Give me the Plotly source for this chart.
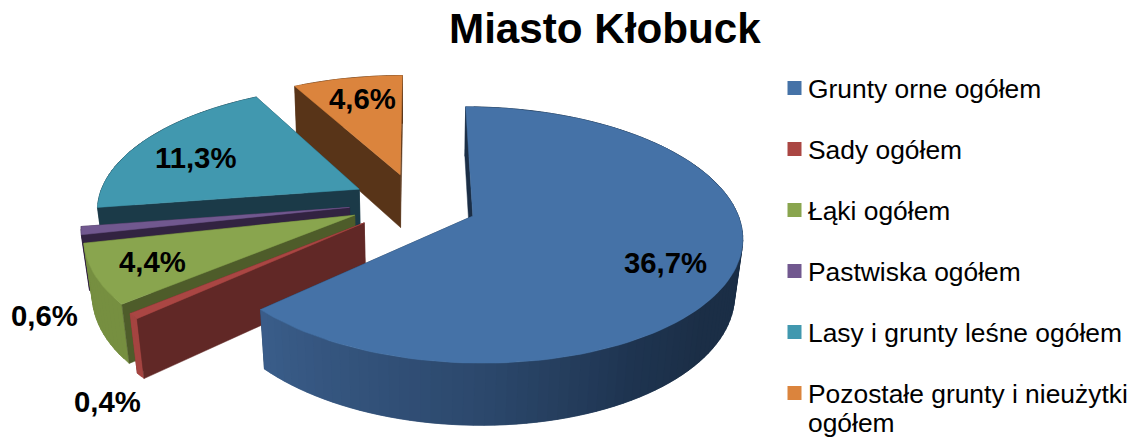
import math
import plotly.graph_objects as go

# Land-use shares for the town, in percent
categories = ["Grunty orne ogółem", "Sady ogółem", "Łąki ogółem", "Pastwiska ogółem",
              "Lasy i grunty leśne ogółem", "Pozostałe grunty i nieużytki<br>ogółem"]
values = [36.7, 0.4, 4.4, 0.6, 11.3, 4.6]
title_text = "Miasto Kłobuck"

# Slice styling: top face, radial wall, rim wall
top_colors = ["#4572A7", "#AA4643", "#89A54E", "#71588F", "#4198AF", "#DB843D"]
wall_colors = ["#1B2E46", "#612826", "#4E5C2A", "#322341", "#1B3A48", "#583418"]
rim_colors = [None, "#A54441", "#768F40", "#322341", "#1B3A48", "#583418"]
blue_rim_stops = [(130, (27, 46, 70)), (150, (30, 52, 80)), (180, (44, 72, 108)), (228, (58, 93, 138))]

# Exploded offset of each slice and a small vertical correction, in the pie's own units
explode = [0.23, 0.26, 0.26, 0.26, 0.25, 0.27]
lift = [0, -3, -3.5, -3, -2, 1]

# Perspective of the pie's plane, in pixels
CX, CY, RX, RY, K = 417, 204.5, 262, 122, 0.146
DEPTH_OFFSET_Y, DEPTH_SCALE_Y = 44.0, 1.05


def project(u, v, dy=0):
    d = 1 + K * v
    return CX + RX * u / d, CY - RY * v / d + dy


def lower(p):
    # The underside shrinks a little towards the pie's axis, more at the front than at the back
    scale_x = 0.975 + 0.01 * max(0.0, min(1.0, (240 - p[1]) / 150))
    return CX + scale_x * (p[0] - CX), DEPTH_OFFSET_Y + DEPTH_SCALE_Y * p[1]


def polygon(points, color):
    xs = [p[0] for p in points] + [points[0][0]]
    ys = [p[1] for p in points] + [points[0][1]]
    return go.Scatter(x=xs, y=ys, mode="lines", fill="toself", fillcolor=color,
                      line=dict(color=color, width=0.5), hoverinfo="skip", showlegend=False)


def blue_rim(angle):
    stops = blue_rim_stops
    if angle <= stops[0][0]:
        c = stops[0][1]
    else:
        c = stops[-1][1]
        for (a0, c0), (a1, c1) in zip(stops, stops[1:]):
            if a0 <= angle <= a1:
                t = (angle - a0) / (a1 - a0)
                c = tuple(c0[i] + t * (c1[i] - c0[i]) for i in range(3))
                break
    return "rgb({:.0f},{:.0f},{:.0f})".format(*c)


total = sum(values)
slices = []
start = 0.0
for i, val in enumerate(values):
    sweep = val / total * 360
    end = start + sweep
    mid = math.radians((start + end) / 2)
    pu, pv = explode[i] * math.sin(mid), explode[i] * math.cos(mid)
    apex = project(pu, pv, lift[i])
    n = max(3, int(sweep / 2))
    angles = [start + sweep * j / n for j in range(n + 1)]
    rim = [project(pu + math.sin(math.radians(a)), pv + math.cos(math.radians(a)), lift[i]) for a in angles]
    slices.append(dict(index=i, apex=apex, rim=rim, angles=angles))
    start = end

fig = go.Figure()

# Painted back to front so that nearer slices hide farther ones
for s in [slices[k] for k in (5, 4, 3, 2, 1, 0)]:
    i, apex, rim, angles = s["index"], s["apex"], s["rim"], s["angles"]
    low_apex = lower(apex)
    fig.add_trace(polygon([apex, rim[-1], lower(rim[-1]), low_apex], wall_colors[i]))
    # Each rim band runs on under the next one, which keeps the joins from showing
    for j in range(len(rim) - 1):
        color = rim_colors[i] or blue_rim((angles[j] + angles[j + 1]) / 2)
        far = min(j + 2, len(rim) - 1)
        fig.add_trace(polygon(rim[j:far + 1] + [lower(p) for p in reversed(rim[j:far + 1])], color))
    fig.add_trace(polygon([apex, rim[0], lower(rim[0]), low_apex], wall_colors[i]))
    fig.add_trace(polygon([apex] + rim, top_colors[i]))

# Data labels
label_xy = [(665, 262), (107, 401), (152, 261), (44, 315), (195, 157), (362, 98)]
annotations = []
for val, (x, y) in zip(values, label_xy):
    annotations.append(dict(x=x, y=y, xref="x", yref="y", showarrow=False,
                            text="<b>" + f"{val:.1f}%".replace(".", ",") + "</b>",
                            font=dict(family="Liberation Sans", size=29.3, color="#000000")))

# Key on the right: square swatches with their names, wrapped lines set closer than the default
key_y = [88, 149, 210, 271, 332, 393]
fig.add_trace(go.Scatter(x=[794.5] * len(categories), y=key_y, mode="markers",
                         marker=dict(symbol="square", size=14, color=top_colors, line=dict(width=0)),
                         hoverinfo="skip", showlegend=False))
for name, y in zip(categories, key_y):
    for line_no, line in enumerate(name.split("<br>")):
        annotations.append(dict(x=805.5, y=y + 0.5 + 29.5 * line_no, xref="x", yref="y", showarrow=False,
                                xanchor="left", align="left", text=line,
                                font=dict(family="Liberation Sans", size=26.4, color="#000000")))

annotations.append(dict(x=604.5, y=28, xref="x", yref="y", showarrow=False,
                        text="<b>" + title_text + "</b>",
                        font=dict(family="Liberation Sans", size=42.2, color="#000000")))

fig.update_layout(
    width=1135, height=439, margin=dict(l=0, r=0, t=0, b=0),
    paper_bgcolor="white", plot_bgcolor="white", showlegend=False,
    xaxis=dict(range=[0, 1135], visible=False, fixedrange=True),
    yaxis=dict(range=[439, 0], visible=False, fixedrange=True),
    annotations=annotations,
)
fig.write_html("out.html", config=dict(displayModeBar=False))
